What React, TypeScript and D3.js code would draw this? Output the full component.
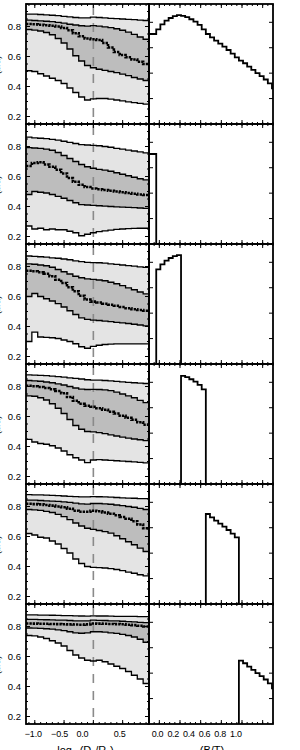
import React from 'react';
import * as d3 from 'd3';

// radial bins, log10(D/Re)
const logD = [-1.1, -1.0, -0.9, -0.8, -0.7, -0.6, -0.5, -0.4, -0.3, -0.2, -0.1, 0.0, 0.1, 0.2, 0.3, 0.4, 0.5, 0.6, 0.7, 0.8, 0.9];

// sample 0: all galaxies
const allP95 = [0.883, 0.882, 0.88, 0.878, 0.875, 0.872, 0.868, 0.864, 0.86, 0.857, 0.858, 0.862, 0.86, 0.857, 0.854, 0.852, 0.85, 0.848, 0.846, 0.843, 0.84];
const allP75 = [0.843, 0.84, 0.838, 0.835, 0.832, 0.828, 0.822, 0.815, 0.81, 0.805, 0.803, 0.806, 0.802, 0.798, 0.792, 0.785, 0.775, 0.762, 0.748, 0.73, 0.715];
const allP50 = [0.817, 0.815, 0.812, 0.808, 0.805, 0.8, 0.79, 0.775, 0.755, 0.735, 0.72, 0.715, 0.71, 0.69, 0.66, 0.63, 0.61, 0.595, 0.58, 0.565, 0.55];
const allP25 = [0.78, 0.776, 0.77, 0.76, 0.745, 0.72, 0.69, 0.65, 0.605, 0.57, 0.54, 0.525, 0.515, 0.508, 0.5, 0.492, 0.482, 0.472, 0.46, 0.45, 0.44];
const allP05 = [0.505, 0.5, 0.485, 0.47, 0.455, 0.44, 0.42, 0.39, 0.36, 0.33, 0.31, 0.317, 0.32, 0.32, 0.316, 0.31, 0.304, 0.298, 0.293, 0.288, 0.283];

// sample 1: B/T = 0
const bt0P95 = [0.862, 0.858, 0.855, 0.852, 0.848, 0.843, 0.835, 0.828, 0.82, 0.813, 0.81, 0.808, 0.805, 0.8, 0.795, 0.788, 0.782, 0.776, 0.77, 0.764, 0.758];
const bt0P75 = [0.792, 0.79, 0.787, 0.783, 0.775, 0.76, 0.74, 0.72, 0.7, 0.68, 0.665, 0.655, 0.648, 0.642, 0.635, 0.625, 0.615, 0.605, 0.595, 0.585, 0.577];
const bt0P50 = [0.67, 0.69, 0.695, 0.68, 0.665, 0.645, 0.62, 0.59, 0.565, 0.545, 0.53, 0.52, 0.515, 0.51, 0.505, 0.5, 0.495, 0.49, 0.485, 0.48, 0.477];
const bt0P25 = [0.48, 0.5, 0.495, 0.49, 0.48, 0.468, 0.455, 0.44, 0.425, 0.413, 0.41, 0.408, 0.405, 0.403, 0.4, 0.398, 0.396, 0.394, 0.392, 0.39, 0.388];
const bt0P05 = [0.27, 0.25, 0.255, 0.245, 0.25, 0.245, 0.245, 0.235, 0.225, 0.205, 0.215, 0.225, 0.232, 0.238, 0.243, 0.248, 0.25, 0.252, 0.254, 0.255, 0.255];

// sample 2: 0 < B/T < 0.2
const bt1P95 = [0.87, 0.868, 0.865, 0.862, 0.858, 0.855, 0.85, 0.845, 0.838, 0.832, 0.828, 0.826, 0.825, 0.822, 0.818, 0.814, 0.81, 0.806, 0.802, 0.798, 0.794];
const bt1P75 = [0.817, 0.815, 0.81, 0.805, 0.795, 0.78, 0.765, 0.75, 0.735, 0.725, 0.718, 0.714, 0.71, 0.705, 0.695, 0.685, 0.672, 0.658, 0.645, 0.63, 0.617];
const bt1P50 = [0.772, 0.768, 0.762, 0.752, 0.735, 0.712, 0.69, 0.662, 0.635, 0.605, 0.58, 0.566, 0.56, 0.552, 0.545, 0.538, 0.53, 0.522, 0.515, 0.51, 0.505];
const bt1P25 = [0.6, 0.62, 0.6, 0.585, 0.57, 0.552, 0.53, 0.505, 0.48, 0.458, 0.447, 0.443, 0.44, 0.436, 0.432, 0.428, 0.424, 0.42, 0.415, 0.41, 0.404];
const bt1P05 = [0.3, 0.362, 0.33, 0.328, 0.325, 0.32, 0.31, 0.3, 0.285, 0.265, 0.255, 0.268, 0.275, 0.28, 0.283, 0.284, 0.284, 0.284, 0.284, 0.284, 0.284];

// sample 3: 0.2 < B/T < 0.45
const bt2P95 = [0.877, 0.876, 0.874, 0.872, 0.869, 0.866, 0.862, 0.858, 0.854, 0.85, 0.845, 0.843, 0.842, 0.84, 0.837, 0.834, 0.831, 0.828, 0.825, 0.822, 0.82];
const bt2P75 = [0.84, 0.838, 0.835, 0.83, 0.825, 0.818, 0.81, 0.8, 0.79, 0.782, 0.78, 0.781, 0.78, 0.778, 0.772, 0.762, 0.75, 0.738, 0.725, 0.708, 0.692];
const bt2P50 = [0.805, 0.802, 0.797, 0.79, 0.782, 0.77, 0.755, 0.73, 0.705, 0.685, 0.672, 0.665, 0.655, 0.645, 0.632, 0.62, 0.605, 0.592, 0.578, 0.562, 0.545];
const bt2P25 = [0.737, 0.735, 0.725, 0.71, 0.685, 0.655, 0.62, 0.58, 0.54, 0.515, 0.5, 0.497, 0.492, 0.486, 0.478, 0.47, 0.463, 0.456, 0.45, 0.445, 0.439];
const bt2P05 = [0.448, 0.43, 0.42, 0.415, 0.405, 0.39, 0.37, 0.345, 0.325, 0.31, 0.292, 0.31, 0.312, 0.31, 0.308, 0.305, 0.302, 0.3, 0.297, 0.294, 0.291];

// sample 4: 0.45 < B/T < 0.77
const bt3P95 = [0.879, 0.878, 0.877, 0.876, 0.874, 0.872, 0.87, 0.868, 0.866, 0.864, 0.864, 0.866, 0.865, 0.864, 0.862, 0.86, 0.858, 0.856, 0.855, 0.853, 0.852];
const bt3P75 = [0.843, 0.842, 0.84, 0.838, 0.836, 0.834, 0.831, 0.828, 0.822, 0.818, 0.816, 0.82, 0.82, 0.818, 0.815, 0.81, 0.806, 0.8, 0.795, 0.788, 0.78];
const bt3P50 = [0.818, 0.816, 0.814, 0.81, 0.806, 0.8, 0.795, 0.785, 0.772, 0.765, 0.765, 0.772, 0.768, 0.76, 0.752, 0.742, 0.73, 0.718, 0.702, 0.68, 0.655];
const bt3P25 = [0.78, 0.778, 0.774, 0.768, 0.76, 0.748, 0.732, 0.712, 0.69, 0.67, 0.655, 0.648, 0.64, 0.632, 0.622, 0.605, 0.585, 0.565, 0.545, 0.522, 0.5];
const bt3P05 = [0.62, 0.61, 0.595, 0.59, 0.57, 0.55, 0.52, 0.49, 0.45, 0.42, 0.4, 0.394, 0.392, 0.39, 0.386, 0.38, 0.372, 0.363, 0.355, 0.345, 0.337];

// sample 5: B/T > 0.77
const bt4P95 = [0.877, 0.877, 0.876, 0.876, 0.875, 0.874, 0.873, 0.872, 0.871, 0.87, 0.869, 0.871, 0.87, 0.87, 0.869, 0.868, 0.868, 0.867, 0.867, 0.866, 0.866];
const bt4P75 = [0.848, 0.847, 0.846, 0.845, 0.844, 0.843, 0.842, 0.84, 0.838, 0.837, 0.838, 0.842, 0.841, 0.84, 0.838, 0.837, 0.835, 0.833, 0.831, 0.828, 0.826];
const bt4P50 = [0.82, 0.819, 0.818, 0.818, 0.817, 0.816, 0.815, 0.814, 0.813, 0.812, 0.814, 0.82, 0.819, 0.818, 0.817, 0.816, 0.815, 0.812, 0.809, 0.805, 0.8];
const bt4P25 = [0.79, 0.789, 0.787, 0.785, 0.782, 0.778, 0.772, 0.765, 0.758, 0.755, 0.758, 0.765, 0.765, 0.762, 0.758, 0.754, 0.748, 0.74, 0.73, 0.715, 0.695];
const bt4P05 = [0.74, 0.738, 0.73, 0.72, 0.705, 0.69, 0.67, 0.64, 0.61, 0.59, 0.575, 0.57, 0.575, 0.565, 0.55, 0.535, 0.52, 0.5, 0.475, 0.45, 0.42];

// B/T histogram (all galaxies); first bin holds B/T = 0
const btEdges = [-0.1, -0.03, 0.01, 0.05, 0.09, 0.13, 0.17, 0.21, 0.25, 0.29, 0.33, 0.37, 0.41, 0.45, 0.49, 0.53, 0.57, 0.61, 0.65, 0.69, 0.73, 0.77, 0.81, 0.85, 0.89, 0.93, 0.97, 1.01, 1.05, 1.09, 1.13];
const btHist = [3.54, 3.72, 3.92, 4.07, 4.17, 4.24, 4.28, 4.25, 4.2, 4.12, 4.03, 3.9, 3.72, 3.54, 3.41, 3.28, 3.16, 3.04, 2.91, 2.77, 2.62, 2.49, 2.39, 2.26, 2.13, 2.0, 1.88, 1.75, 1.6, 1.4];
// bin index range [start, end) for each row
const rowBinStart = [0, 0, 1, 7, 13, 21];
const rowBinEnd = [30, 1, 7, 13, 21, 30];

const rows = [
  [allP05, allP25, allP50, allP75, allP95],
  [bt0P05, bt0P25, bt0P50, bt0P75, bt0P95],
  [bt1P05, bt1P25, bt1P50, bt1P75, bt1P95],
  [bt2P05, bt2P25, bt2P50, bt2P75, bt2P95],
  [bt3P05, bt3P25, bt3P50, bt3P75, bt3P95],
  [bt4P05, bt4P25, bt4P50, bt4P75, bt4P95],
];

const xTicksL = [-1.0, -0.5, 0.0, 0.5];
const xTickLabelsL = ['\u22121.0', '\u22120.5', '0.0', '0.5'];
const yTicksL = [0.2, 0.4, 0.6, 0.8];
const yTickLabelsL = ['0.2', '0.4', '0.6', '0.8'];
const xTicksR = [0.0, 0.2, 0.4, 0.6, 0.8, 1.0];
const xTickLabelsR = ['0.0', '0.2', '0.4', '0.6', '0.8', '1.0'];
const yTicksR = [1, 2, 3, 4];

// layout
const FONT = '"Liberation Sans", Arial, sans-serif';
const TOP = 4;
const PH = 120;
const LX0 = 26, LX1 = 149, RX1 = 273;
// horizontal nudges of the bottom-left tick labels, as printed in the original
const labelNudgeL = [-1.5, -4.5, -11, -3];

function range(a: number, b: number, s: number) {
  const out: number[] = [];
  for (let v = a; v <= b + 1e-9; v += s) out.push(Math.round(v * 1000) / 1000);
  return out;
}

export default function App() {
  const xL = d3.scaleLinear().domain([-1.15, 0.95]).range([LX0, LX1]);
  const xR = d3.scaleLinear().domain([-0.1, 1.1]).range([LX1, RX1]);
  const yL = d3.scaleLinear().domain([0.15, 0.95]).range([PH, 0]);
  const yR = d3.scaleLinear().domain([0, 4.72]).range([PH, 0]);
  const xLabR = d3.scaleLinear().domain([0, 1]).range([xR(0) - 1.8, xR(0) + 76.5]);

  const xMinorL = range(-1.1, 0.9, 0.1);
  const yMinorL = range(0.15, 0.95, 0.05);
  const xMinorR = range(-0.1, 1.1, 0.05);

  const ext = (arr: number[]) => {
    const pts = logD.map((x, i) => [x, arr[i]] as [number, number]);
    return [[-1.15, arr[0]] as [number, number], ...pts, [0.95, arr[arr.length - 1]] as [number, number]];
  };
  const band = (lo: number[], hi: number[]) => {
    const a = d3.area<[number, number, number]>()
      .x(d => xL(d[0])).y0(d => yL(d[1])).y1(d => yL(d[2])).curve(d3.curveStep);
    const L = ext(lo), Hh = ext(hi);
    return a(L.map((p, i) => [p[0], p[1], Hh[i][1]]))!;
  };
  const line = (arr: number[]) =>
    d3.line<[number, number]>().x(d => xL(d[0])).y(d => yL(d[1])).curve(d3.curveStep)(ext(arr))!;

  const hist = (r: number) => {
    const s = rowBinStart[r], e = rowBinEnd[r];
    const pts: [number, number][] = [];
    if (s > 0) pts.push([btEdges[s], 0]);
    for (let i = s; i < e; i++) {
      pts.push([btEdges[i], btHist[i]]);
      pts.push([btEdges[i + 1], btHist[i]]);
    }
    pts.push([btEdges[e], 0]);
    return d3.line<[number, number]>().x(d => xR(d[0])).y(d => yR(d[1]))(pts)!;
  };

  const tk = 4, tkm = 2;

  return (
    <svg width={300} height={750} style={{ position: 'absolute', left: 0, top: 0, display: 'block', background: '#fff' }}>
      <defs>
        <clipPath id="clipL"><rect x={LX0} y={0} width={LX1 - LX0} height={PH} /></clipPath>
        <clipPath id="clipR"><rect x={LX1} y={0} width={RX1 - LX1} height={PH} /></clipPath>
      </defs>
      {rows.map((row, r) => {
        const [p05, p25, p50, p75, p95] = row;
        const ty = TOP + r * PH;
        return (
          <g key={r} transform={`translate(0,${ty})`}>
            <g clipPath="url(#clipL)">
              <path d={band(p05, p95)} fill="#e4e4e4" stroke="none" />
              <path d={band(p25, p75)} fill="#bdbdbd" stroke="none" />
              <line x1={xL(0)} x2={xL(0)} y1={0} y2={PH} stroke="#8a8a8a" strokeWidth={1.6} strokeDasharray="9 8" strokeDashoffset={-2} />
              {[p05, p25, p75, p95].map((a, i) => (
                <path key={i} d={line(a)} fill="none" stroke="#000" strokeWidth={1.3} />
              ))}
              <path d={line(p50)} fill="none" stroke="#000" strokeWidth={2.6} strokeDasharray="2.4 1" />
            </g>
            <g clipPath="url(#clipR)">
              <path d={hist(r)} fill="none" stroke="#000" strokeWidth={1.8} strokeLinejoin="miter" />
            </g>
            {xMinorL.map(v => (
              <g key={'xm' + v}>
                <line x1={xL(v)} x2={xL(v)} y1={PH} y2={PH - tkm} stroke="#000" strokeWidth={1} />
                <line x1={xL(v)} x2={xL(v)} y1={0} y2={tkm} stroke="#000" strokeWidth={1} />
              </g>
            ))}
            {xTicksL.map(v => (
              <g key={'xM' + v}>
                <line x1={xL(v)} x2={xL(v)} y1={PH} y2={PH - tk} stroke="#000" strokeWidth={1} />
                <line x1={xL(v)} x2={xL(v)} y1={0} y2={tk} stroke="#000" strokeWidth={1} />
              </g>
            ))}
            {yMinorL.map(v => (
              <g key={'ym' + v}>
                <line x1={LX0} x2={LX0 + tkm} y1={yL(v)} y2={yL(v)} stroke="#000" strokeWidth={1} />
                <line x1={LX1} x2={LX1 - tkm} y1={yL(v)} y2={yL(v)} stroke="#000" strokeWidth={1} />
              </g>
            ))}
            {yTicksL.map((v, i) => (
              <g key={'yM' + v}>
                <line x1={LX0} x2={LX0 + tk} y1={yL(v)} y2={yL(v)} stroke="#000" strokeWidth={1} />
                <line x1={LX1} x2={LX1 - tk} y1={yL(v)} y2={yL(v)} stroke="#000" strokeWidth={1} />
                <text x={LX0 - 5} y={yL(v) + 3.5} textAnchor="end" fontFamily={FONT} fontSize={9.5}>{yTickLabelsL[i]}</text>
              </g>
            ))}
            {xMinorR.map(v => (
              <g key={'rxm' + v}>
                <line x1={xR(v)} x2={xR(v)} y1={PH} y2={PH - tkm} stroke="#000" strokeWidth={1} />
                <line x1={xR(v)} x2={xR(v)} y1={0} y2={tkm} stroke="#000" strokeWidth={1} />
              </g>
            ))}
            {xTicksR.map(v => (
              <g key={'rxM' + v}>
                <line x1={xR(v)} x2={xR(v)} y1={PH} y2={PH - tk} stroke="#000" strokeWidth={1} />
                <line x1={xR(v)} x2={xR(v)} y1={0} y2={tk} stroke="#000" strokeWidth={1} />
              </g>
            ))}
            {yTicksR.map(v => (
              <g key={'ryM' + v}>
                <line x1={LX1} x2={LX1 + tk} y1={yR(v)} y2={yR(v)} stroke="#000" strokeWidth={1} />
                <line x1={RX1} x2={RX1 - tk} y1={yR(v)} y2={yR(v)} stroke="#000" strokeWidth={1} />
              </g>
            ))}
            <rect x={LX0} y={0} width={LX1 - LX0} height={PH} fill="none" stroke="#000" strokeWidth={1.8} />
            <rect x={LX1} y={0} width={RX1 - LX1} height={PH} fill="none" stroke="#000" strokeWidth={1.8} />
            {/* y-axis title, mostly beyond the left edge of the page */}
            <text transform={`translate(0.2,${PH / 2 + 1}) rotate(-90)`} textAnchor="middle" fontFamily={FONT} fontSize={9}>(b/a)</text>
          </g>
        );
      })}
      {xTicksL.map((v, i) => (
        <text key={'lxl' + v} x={xL(v) + labelNudgeL[i]} y={TOP + 6 * PH + 13} textAnchor="middle" fontFamily={FONT} fontSize={9} letterSpacing={-0.2}>{xTickLabelsL[i]}</text>
      ))}
      {xTicksR.map((v, i) => (
        <text key={'rxl' + v} x={xLabR(v)} y={TOP + 6 * PH + 13} textAnchor="middle" fontFamily={FONT} fontSize={9} letterSpacing={-0.3}>{xTickLabelsR[i]}</text>
      ))}
      <text x={(LX0 + LX1) / 2 - 2} y={TOP + 6 * PH + 30} textAnchor="middle" fontFamily={FONT} fontSize={11}>
        log<tspan dy={3} fontSize={7}>10</tspan><tspan dy={-3}>(D</tspan><tspan dy={3} fontSize={7}>p</tspan><tspan dy={-3}>/R</tspan><tspan dy={3} fontSize={7}>e</tspan><tspan dy={-3}>)</tspan>
      </text>
      <text x={(LX1 + RX1) / 2 + 1} y={TOP + 6 * PH + 30} textAnchor="middle" fontFamily={FONT} fontSize={11}>(B/T)</text>
    </svg>
  );
}
